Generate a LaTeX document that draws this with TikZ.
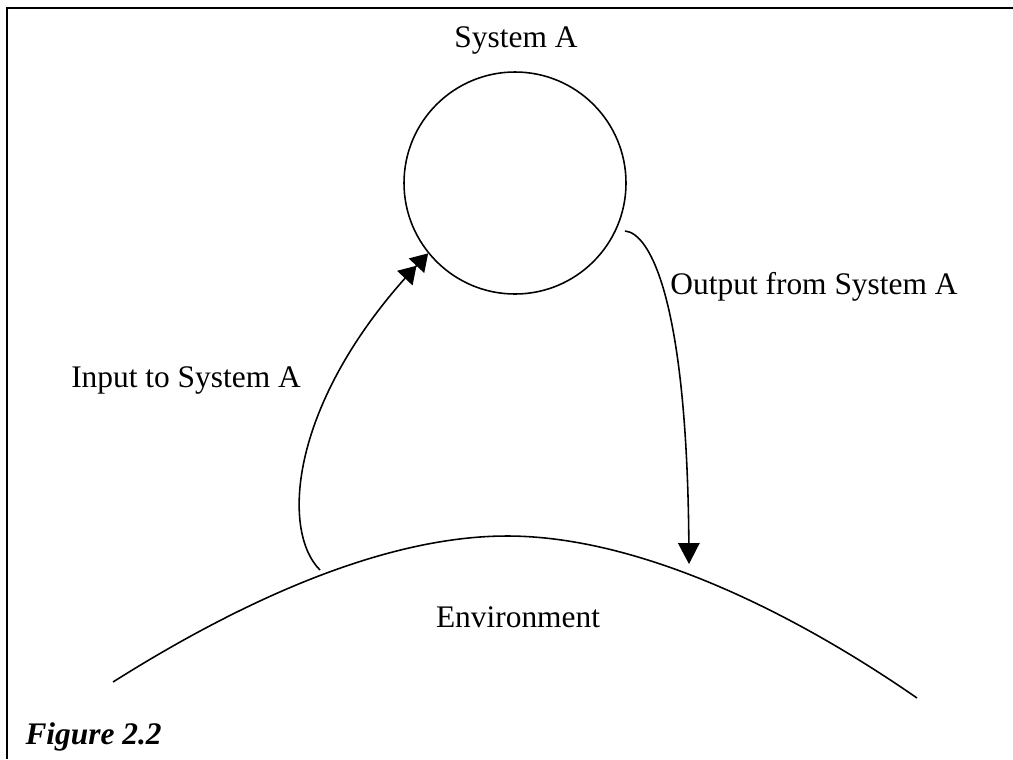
\documentclass[tikz,border=0pt]{standalone}
\usepackage{fontspec}
\setmainfont{Liberation Serif}
\usetikzlibrary{arrows.meta}
\tikzset{
  label text/.style={font=\fontsize{12}{14}\selectfont, inner sep=0pt},
  flow/.style={line width=0.6pt},
}
\begin{document}
\begin{tikzpicture}[x=0.382pt, y=-0.382pt]
        \useasboundingbox (0,0) rectangle (1013,759);
        % frame
        \draw[line width=0.9pt] (7,759) -- (7,8) -- (1013,8);
        \node[label text] (title) at (516,40) {System A};
        \node[draw, circle, line width=0.6pt, minimum size=222*0.382pt, inner sep=0pt] (sysA) at (515,183) {};
        \node[label text] (inLbl) at (186,380) {Input to System A};
        \node[label text] (outLbl) at (814,287) {Output from System A};
        \node[label text] (env) at (518,617) {Environment};
        \node[label text, font=\fontsize{12}{14}\selectfont\bfseries\itshape, anchor=west] (fig) at (25,737) {Figure 2.2};
        % environment curve
        \coordinate (envL) at (113,682);
        \coordinate (envTop) at (507,536);
        \coordinate (envR) at (917,698);
        \coordinate (inStart) at (320,570);
        \coordinate (outStart) at (625,231);
        \coordinate (outEnd) at (689,564);
        \draw[flow] (envL) .. controls (235,605) and (380,536) .. (envTop)
                           .. controls (637,536) and (790,610) .. (envR);
        % input and output
        \draw[flow, -{Triangle[length=6.5pt,width=8pt]Triangle[length=6.5pt,width=8pt]}] (inStart) .. controls (280,530) and (290,400) .. (sysA.219);
        \draw[flow, -{Triangle[length=8pt,width=8.2pt]}] (outStart) .. controls (650,233) and (687,300) .. (outEnd);
    \end{tikzpicture}
\end{document}
